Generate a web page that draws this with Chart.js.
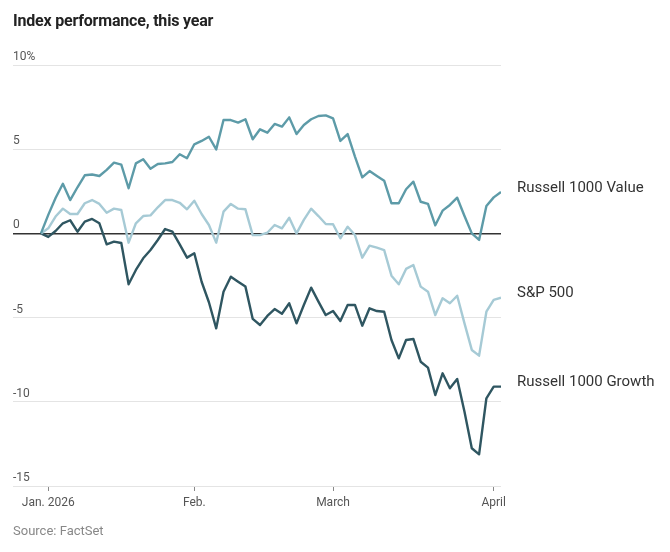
<!DOCTYPE html>
<html lang="en">
<head>
    <meta charset="UTF-8">
    <title>Index performance, this year</title>
    <style>
        * { margin: 0; padding: 0; box-sizing: border-box; }
        body { width: 670px; height: 552px; background: #fff; font-family: Roboto, sans-serif; position: relative; overflow: hidden; }
        .title { position: absolute; left: 13px; top: 11px; font-size: 16px; font-weight: 700; color: #222; letter-spacing: -0.2px; }
        .source { position: absolute; left: 13px; top: 523px; font-size: 13px; color: #888; }
        .wrap { position: absolute; left: 0; top: 0; width: 670px; height: 552px; }
    </style>
</head>
<body>
    <div class="wrap"><canvas id="chart" width="670" height="552"></canvas></div>
    <div class="title">Index performance, this year</div>
    <div class="source">Source: FactSet</div>

    <script src="https://cdn.jsdelivr.net/npm/chart.js"></script>
    <script>
        // trading days since Dec. 31 (index 0), % change
        const seriesNames = ['Russell 1000 Value', 'S&P 500', 'Russell 1000 Growth'];
        const value = [0, 1.1, 2.1, 2.95, 1.98, 2.74, 3.45, 3.5, 3.41, 3.77, 4.2, 4.08, 2.68, 4.16, 4.4, 3.84,
            4.12, 4.16, 4.24, 4.7, 4.46, 5.29, 5.49, 5.74, 4.99, 6.73, 6.73, 6.58, 6.78, 5.59, 6.18, 5.98,
            6.5, 6.34, 6.89, 5.9, 6.44, 6.78, 6.97, 7.01, 6.83, 5.49, 5.9, 4.56, 3.33, 3.7, 3.41, 3.13,
            1.79, 1.79, 2.62, 3.07, 1.88, 1.75, 0.48, 1.35, 1.69, 2.12, 1.03, 0, -0.39, 1.63, 2.14, 2.46];
        const sp500 = [0, 0.3, 1.0, 1.47, 1.15, 1.15, 1.79, 1.98, 1.75, 1.23, 1.47, 1.39, -0.55, 0.6, 1.03, 1.07,
            1.55, 1.98, 1.98, 1.82, 1.43, 1.94, 1.15, 0.5, -0.55, 1.29, 1.75, 1.47, 1.43, -0.1, -0.1, 0.04,
            0.5, 0.3, 0.93, 0, 0.8, 1.47, 1.03, 0.56, 0.54, -0.29, 0.4, -0.1, -1.44, -0.73, -0.85, -0.99,
            -2.51, -3.02, -2.11, -1.88, -3.16, -3.46, -4.85, -3.85, -4.15, -3.7, -5.34, -6.92, -7.26, -4.65, -3.95, -3.82];
        const growth = [0, -0.21, 0.14, 0.6, 0.78, 0.1, 0.7, 0.86, 0.6, -0.65, -0.49, -0.57, -3.02, -2.17, -1.48, -0.99,
            -0.39, 0.26, 0.1, -0.65, -1.44, -1.18, -2.87, -4.09, -5.64, -3.46, -2.57, -2.87, -3.16, -5.08, -5.44, -4.9,
            -4.49, -4.77, -4.15, -5.34, -4.25, -3.22, -4.05, -4.85, -4.61, -5.2, -4.25, -4.25, -5.48, -4.45, -4.61, -4.65,
            -6.33, -7.42, -6.33, -6.27, -7.62, -7.97, -9.6, -8.31, -9.2, -8.65, -10.59, -12.76, -13.12, -9.79, -9.1, -9.1];

        // x ticks: first trading day of each month
        const tickIdx = [1, 21, 40, 62];
        const tickText = ['Jan. 2026', 'Feb.', 'March', 'April'];
        const yTicks = [10, 5, 0, -5, -10, -15];

        const colors = ['#5d9ba8', '#a6cad5', '#2f5661'];
        const toPoints = arr => arr.map((v, i) => ({ x: i, y: v }));

        // series names at the end of each line
        const endLabels = {
            id: 'endLabels',
            afterDatasetsDraw(chart) {
                const c = chart.ctx;
                c.save();
                c.font = '15px Roboto, sans-serif';
                c.fillStyle = '#333';
                c.textBaseline = 'middle';
                c.textAlign = 'left';
                chart.data.datasets.forEach((ds, i) => {
                    const pts = chart.getDatasetMeta(i).data;
                    const last = pts[pts.length - 1];
                    c.fillText(ds.label, last.x + 16, last.y - 4);
                });
                c.restore();
            }
        };

        new Chart(document.getElementById('chart'), {
            type: 'line',
            data: {
                datasets: [
                    { label: seriesNames[0], data: toPoints(value), borderColor: colors[0] },
                    { label: seriesNames[1], data: toPoints(sp500), borderColor: colors[1] },
                    { label: seriesNames[2], data: toPoints(growth), borderColor: colors[2] }
                ]
            },
            options: {
                responsive: false,
                animation: false,
                layout: { padding: { left: 13, right: 169, top: 65, bottom: 0 } },
                elements: {
                    line: { borderWidth: 2.4, tension: 0, borderJoinStyle: 'round' },
                    point: { radius: 0 }
                },
                plugins: { legend: { display: false }, tooltip: { enabled: false } },
                scales: {
                    x: {
                        type: 'linear',
                        min: -3.83,
                        max: 63,
                        afterBuildTicks: axis => { axis.ticks = tickIdx.map(v => ({ value: v })); },
                        afterFit: axis => { axis.height = 66; },
                        grid: { drawOnChartArea: false, drawTicks: true, tickLength: 5, color: '#888' },
                        border: { display: false },
                        ticks: {
                            autoSkip: false,
                            maxRotation: 0,
                            padding: 5,
                            color: '#555',
                            font: { family: 'Roboto', size: 12 },
                            callback: v => tickText[tickIdx.indexOf(v)]
                        }
                    },
                    y: {
                        min: -15,
                        max: 10,
                        afterBuildTicks: axis => { axis.ticks = yTicks.map(v => ({ value: v })); },
                        afterFit: axis => { axis.width = 0; },
                        grid: {
                            drawTicks: false,
                            color: ctx => ctx.tick.value === 0 ? '#333' : '#e4e4e4',
                            lineWidth: ctx => ctx.tick.value === 0 ? 1.4 : 1
                        },
                        border: { display: false },
                        ticks: {
                            mirror: true,
                            padding: 0,
                            labelOffset: -8,
                            color: '#555',
                            font: { family: 'Roboto', size: 12 },
                            callback: v => v === 10 ? '10%' : String(v)
                        }
                    }
                }
            },
            plugins: [endLabels]
        });
    </script>
</body>
</html>
